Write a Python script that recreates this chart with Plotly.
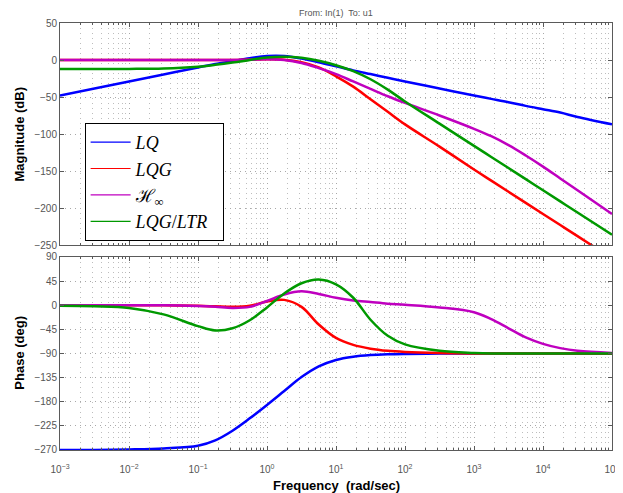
import plotly.graph_objects as go

# frequency grid (rad/sec)
freq = [1e-3, 3.162e-3, 1e-2, 3.162e-2, 1e-1, 0.1778, 0.3162, 0.5623, 1.0, 1.778, 3.162, 5.623,
        10.0, 17.78, 31.62, 56.23, 100.0, 316.2, 1000.0, 1778.0, 3162.0, 5623.0, 1e4, 1.778e4,
        3.162e4, 1e5]

# x tick positions / labels
x_tickvals = [1e-3, 1e-2, 1e-1, 1e0, 1e1, 1e2, 1e3, 1e4, 1e5]
x_ticktext = ["10<sup>\u22123</sup>", "10<sup>\u22122</sup>", "10<sup>\u22121</sup>", "10<sup>0</sup>",
              "10<sup>1</sup>", "10<sup>2</sup>", "10<sup>3</sup>", "10<sup>4</sup>", "10<sup>5</sup>"]

# magnitude (dB)
mag_lq = [-48, -38.5, -29, -19.5, -10, -5.5, -1.5, 2.5, 5.5, 5.5, 2, -3, -8.5, -14, -19, -24,
          -29, -38.5, -48, -52.5, -57, -62, -66.5, -71, -77, -87]
mag_lqg = [0, 0, 0, 0, 0, 0, 0, 0.5, 1, 0.5, -3, -10, -22, -36, -53, -70, -87, -117, -148,
           -163, -178, -193, -208, -223, -238, -268]
mag_hinf = [0, 0, 0, 0, 0, 0, 0, 0.3, 1, 0, -4, -11, -19, -29, -39, -49, -58, -75, -93, -103,
            -115, -129, -144, -160, -176, -208]
mag_ltr = [-12, -12, -12, -11.5, -9, -6.5, -3.5, 0, 3.5, 4.5, 3, -1, -7, -15, -26, -40, -56,
           -86, -116, -131, -146, -161, -176, -191, -206, -236]

# phase (deg)
ph_lq = [-270, -270, -269, -267, -262, -252, -234, -211, -186, -160, -134, -114, -102, -96,
         -93, -91.5, -90.8, -90.2, -90, -90, -90, -90, -90, -90, -90, -90]
ph_lqg = [0, 0, 0, 0, -1, -2, -3, -1, 7, 10, -3, -36, -61, -74, -81, -85, -87, -89, -90, -90,
          -90, -90, -90, -90, -90, -90]
ph_hinf = [0, 0, 0, 0, -1.5, -3, -5, -3, 8, 20, 26, 21, 14, 9, 6, 3, 1, -4, -13, -26, -43,
           -60, -72, -80, -85, -89]
ph_ltr = [-1, -2, -5, -17, -39, -47, -43, -28, -4, 22, 41, 48, 39, 14, -27, -57, -73, -85,
          -89, -90, -90, -90, -90, -90, -90, -90]

names = ["<i>LQ</i>", "<i>LQG</i>", "\u210B<sub>\u221E</sub>", "<i>LQG</i>/<i>LTR</i>\u00a0\u00a0"]
colors = ["#0000FF", "#FF0000", "#BF00BF", "#009900"]
mags = [mag_lq, mag_lqg, mag_hinf, mag_ltr]
phases = [ph_lq, ph_lqg, ph_hinf, ph_ltr]

fig = go.Figure()
for name, c, m, p in zip(names, colors, mags, phases):
    fig.add_trace(go.Scatter(x=freq, y=m, mode="lines", line=dict(color=c, width=2.5, shape="spline"),
                             showlegend=False, xaxis="x", yaxis="y", hoverinfo="skip"))
    fig.add_trace(go.Scatter(x=freq, y=p, mode="lines", line=dict(color=c, width=2.5, shape="spline"),
                             showlegend=False, xaxis="x2", yaxis="y2", hoverinfo="skip"))
for name, c in zip(names, colors):
    fig.add_trace(go.Scatter(x=[None], y=[None], mode="lines", line=dict(color=c, width=1.2),
                             name=name, xaxis="x", yaxis="y"))

grid_c = "#a8a8a8"
minor_c = "#bdbdbd"
frame_c = "#5a5a5a"
sans = "Liberation Sans, Arial, sans-serif"
tickfont = dict(family=sans, size=10, color="#555555")

xcommon = dict(type="log", range=[-3, 5], tickvals=x_tickvals, ticktext=x_ticktext,
               showline=True, linecolor=frame_c, linewidth=1,
               mirror="allticks", ticks="inside", ticklen=4, tickcolor=frame_c,
               showgrid=True, gridcolor=grid_c, griddash="1px,4px", gridwidth=1, zeroline=False,
               minor=dict(dtick="D1", ticks="inside", ticklen=2, tickcolor=frame_c,
                          showgrid=True, gridcolor=minor_c, griddash="1px,4px", gridwidth=1))
ycommon = dict(showline=True, linecolor=frame_c, linewidth=1, mirror="allticks", ticks="inside",
               ticklen=4, tickcolor=frame_c, showgrid=True, gridcolor=grid_c, griddash="1px,4px",
               gridwidth=1, zeroline=False, tickfont=tickfont)

# the page body adds an 8px offset, so the figure is 8px smaller and margins compensate
fig.update_layout(
    width=615, height=485,
    margin=dict(l=52, r=3, t=15, b=43),
    paper_bgcolor="white", plot_bgcolor="white",
    xaxis=dict(**xcommon, domain=[0, 1], anchor="y", showticklabels=False),
    yaxis=dict(**ycommon, domain=[0.480, 1], range=[-250, 50], dtick=50),
    xaxis2=dict(**xcommon, domain=[0, 1], anchor="y2", showticklabels=True,
                tickfont=tickfont, ticklabelstandoff=10, ticklabeloverflow="allow"),
    yaxis2=dict(**ycommon, domain=[0, 0.452], range=[-270, 90], dtick=45),
    legend=dict(x=0.0446, y=0.766, xanchor="left", yanchor="top", bgcolor="white",
                bordercolor="black", borderwidth=1, itemwidth=40,
                font=dict(family="Liberation Serif, DejaVu Serif, serif", size=18, color="black")),
    annotations=[
        dict(text="From: In(1)\u00a0 To: u1", x=0.5, y=1.024, xref="paper", yref="paper",
             xanchor="center", yanchor="middle", showarrow=False,
             font=dict(family=sans, size=9, color="#555555")),
        dict(text="<b>Magnitude (dB)</b>", x=-0.075, y=0.74, xref="paper", yref="paper",
             xanchor="center", yanchor="middle", textangle=-90, showarrow=False,
             font=dict(family=sans, size=13, color="black")),
        dict(text="<b>Phase (deg)</b>", x=-0.075, y=0.227, xref="paper", yref="paper",
             xanchor="center", yanchor="middle", textangle=-90, showarrow=False,
             font=dict(family=sans, size=13, color="black")),
        dict(text="<b>Frequency\u00a0 (rad/sec)</b>", x=0.5, y=-0.082, xref="paper", yref="paper",
             xanchor="center", yanchor="middle", showarrow=False,
             font=dict(family=sans, size=13, color="black")),
    ],
)

fig.write_html("out.html")
